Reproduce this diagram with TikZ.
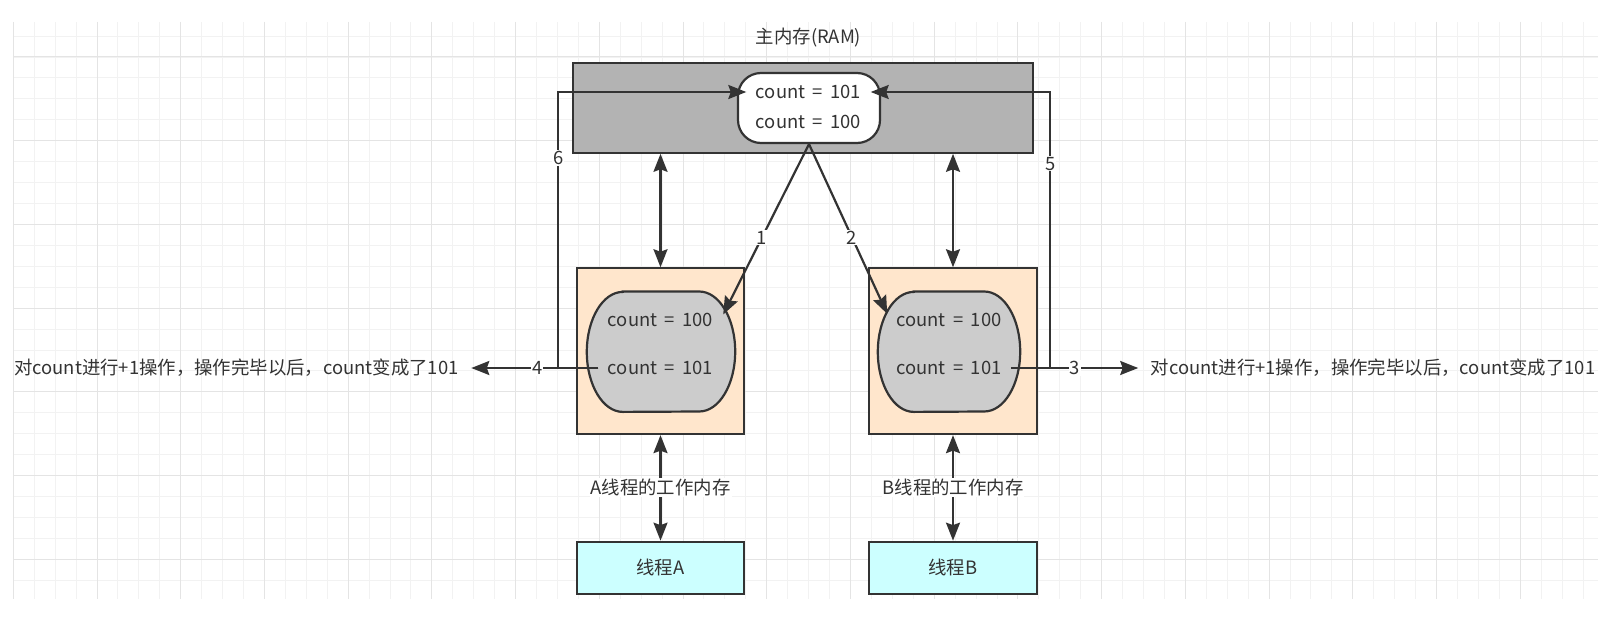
\documentclass[tikz,border=0pt]{standalone}
\usepackage{fontspec}
\setmainfont{Noto Sans CJK SC}[WordSpace=1.8]
\usetikzlibrary{arrows.meta,positioning}
\definecolor{ink}{HTML}{333333}
\definecolor{ramgray}{HTML}{B3B3B3}
\definecolor{blobgray}{HTML}{CCCCCC}
\definecolor{peach}{HTML}{FFE6CC}
\definecolor{cyanbox}{HTML}{CCFFFF}
\definecolor{gridminor}{HTML}{F2F2F2}
\definecolor{gridmajor}{HTML}{E4E4E4}
\tikzset{
  box/.style={draw=ink,line width=2.2pt,inner sep=0pt},
  val/.style={inner sep=0pt,minimum width=124pt},
  flow/.style={draw=ink,line width=2.2pt,-{Stealth[length=18pt,width=14pt,inset=2.5pt]}},
  both/.style={flow,{Stealth[length=18pt,width=14pt,inset=2.5pt]}-{Stealth[length=18pt,width=14pt,inset=2.5pt]}},
  tag/.style={fill=white,inner sep=1pt},
  note/.style={inner xsep=12.5pt,inner ysep=0pt},
}
\begin{document}
\begin{tikzpicture}[x=1pt,y=-1pt,every node/.style={font=\fontsize{18.4}{21}\selectfont,text=ink}]
    \useasboundingbox (0,0) rectangle (1606,626);
    % background grid
    \foreach \i [evaluate=\i as \gx using 13.3+20.93*\i] in {0,...,75}
        \draw[gridminor,line width=1pt] (\gx,22) -- (\gx,599);
    \foreach \j [evaluate=\j as \gy using 36.1+20.93*\j] in {0,...,26}
        \draw[gridminor,line width=1pt] (13.3,\gy) -- (1598,\gy);
    \foreach \i [evaluate=\i as \gx using 13.3+83.72*\i] in {0,...,18}
        \draw[gridmajor,line width=1pt] (\gx,22) -- (\gx,599);
    \foreach \j [evaluate=\j as \gy using 57+83.72*\j] in {0,...,6}
        \draw[gridmajor,line width=1pt] (13.3,\gy) -- (1598,\gy);

    % main memory
    \node (title) at (808.5,38) {主内存(RAM)};
    \node[box,fill=ramgray,minimum width=460pt,minimum height=89.4pt] (ram) at (802.7,108) {};
    \node[box,fill=white,rounded corners=23pt,minimum width=142pt,minimum height=70pt] (mval) at (809,108) {};
    \node[val] (m101) at (808.5,92) {count = 101};
    \node[val] (m100) at (808.5,122) {count = 100};

    % working memory of the two threads
    \node[box,fill=peach,minimum width=167.6pt,minimum height=165.7pt] (abox) at (660.5,351.2) {};
    \node[box,fill=peach,minimum width=168pt,minimum height=165.7pt] (bbox) at (953,351.2) {};
    \node[inner sep=0pt,minimum width=148pt,minimum height=120pt] (ablob) at (661,351.7) {};
    \node[inner sep=0pt,minimum width=142pt,minimum height=120pt] (bblob) at (949,351.7) {};
    \foreach \n in {ablob,bblob}{%
        \draw[draw=ink,fill=blobgray,line width=2.2pt]
            ([xshift=36pt]\n.north west) -- ([xshift=-36pt]\n.north east)
            arc[start angle=90,end angle=0,x radius=36pt,y radius=60pt]
            arc[start angle=0,end angle=-90,x radius=36pt,y radius=60pt]
            -- ([xshift=36pt]\n.south west)
            arc[start angle=270,end angle=180,x radius=36pt,y radius=60pt]
            arc[start angle=180,end angle=90,x radius=36pt,y radius=60pt] -- cycle;
    }
    \node[val] (a100) at (660.5,320) {count = 100};
    \node[val] (a101) at (660.5,368) {count = 101};
    \node[val] (b100) at (949,320) {count = 100};
    \node[val] (b101) at (949,368) {count = 101};

    % threads
    \node[box,fill=cyanbox,minimum width=167.6pt,minimum height=52.3pt] (thra) at (660.5,567.9) {线程A};
    \node[box,fill=cyanbox,minimum width=168pt,minimum height=52.3pt] (thrb) at (953,567.9) {线程B};

    % side notes
    \node[note,left=127pt of a101.west] (leftnote) {对count进行+1操作，操作完毕以后，count变成了101};
    \node[note,right=127pt of b101.east] (rightnote) {对count进行+1操作，操作完毕以后，count变成了101};

    % read / write arrows
    \draw[both] (abox.north) -- (abox.north |- ram.south);
    \draw[both] (bbox.north) -- (bbox.north |- ram.south);
    \draw[both] (abox.south) -- (thra.north) node[tag,midway] {A线程的工作内存};
    \draw[both] (bbox.south) -- (thrb.north) node[tag,midway] {B线程的工作内存};
    \draw[flow] (mval.south) -- ([xshift=-12pt,yshift=-23pt]ablob.north east) node[tag,pos=.55] {1};
    \draw[flow] (mval.south) -- ([xshift=9.4pt,yshift=-22.3pt]bblob.north west) node[tag,pos=.55] {2};
    \draw[flow] (a101.west) -- ++(-40,0) |- (m101.west) node[tag,pos=.38] {6};
    \draw[flow] (b101.east) -- ++(39,0) |- (m101.east) node[tag,pos=.37] {5};
    \draw[flow] (a101.west) -- (leftnote.east) node[tag,pos=.48] {4};
    \draw[flow] (b101.east) -- (rightnote.west) node[tag,midway] {3};
\end{tikzpicture}
\end{document}
